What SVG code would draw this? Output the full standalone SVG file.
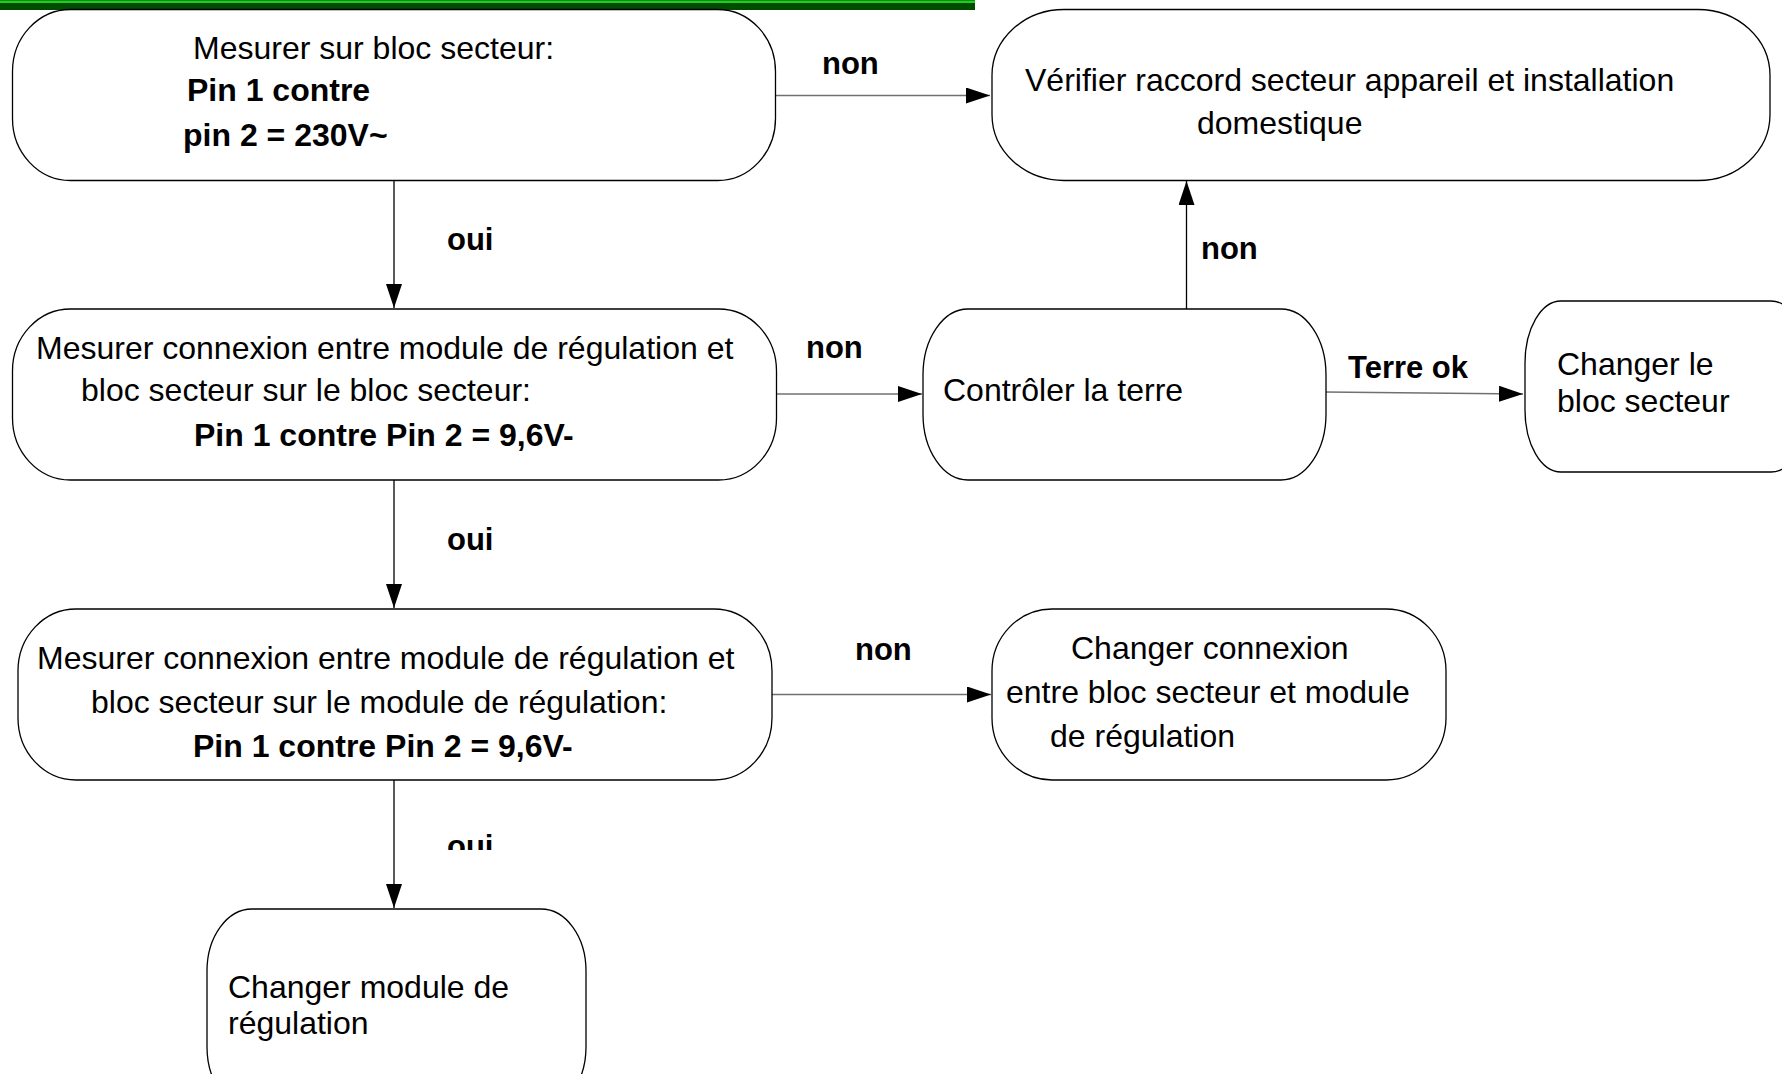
<svg xmlns="http://www.w3.org/2000/svg" width="1782" height="1074" viewBox="0 0 1782 1074">
<style>
.node{fill:#ffffff;stroke:#000000;stroke-width:1.3}
.t{font-family:"Liberation Sans",Arial,sans-serif;font-size:32px;fill:#000}
.b{font-family:"Liberation Sans",Arial,sans-serif;font-size:32px;font-weight:bold;fill:#000}
.lbl{font-family:"Liberation Sans",Arial,sans-serif;font-size:31px;font-weight:bold;fill:#000}
.v{stroke:#000;stroke-width:1.3;fill:none}
.h{stroke:#707070;stroke-width:1.6;fill:none}
</style>
<defs>
<marker id="ah" markerUnits="userSpaceOnUse" markerWidth="24" markerHeight="16" refX="24" refY="8" orient="auto">
<path d="M0,0 L24,8 L0,16 z" fill="#000"/>
</marker>
<clipPath id="clipOui"><rect x="0" y="0" width="1782" height="850"/></clipPath>
</defs>
<rect width="1782" height="1074" fill="#ffffff"/>
<g id="topbar">
<rect x="0" y="0" width="975" height="10" fill="#004d00"/>
<rect x="0" y="0.5" width="975" height="2.5" fill="#22cc22"/>
</g>
<g id="connectors">
<line class="h" x1="766" y1="95.5" x2="990" y2="95.5" marker-end="url(#ah)"/>
<line class="v" x1="394" y1="180" x2="394" y2="308" marker-end="url(#ah)"/>
<line class="h" x1="776" y1="394" x2="922" y2="394" marker-end="url(#ah)"/>
<line class="v" x1="1186.5" y1="309" x2="1186.5" y2="181" marker-end="url(#ah)"/>
<line class="h" x1="1325" y1="392" x2="1523" y2="394" marker-end="url(#ah)"/>
<line class="v" x1="394" y1="480" x2="394" y2="608" marker-end="url(#ah)"/>
<line class="h" x1="772" y1="694.5" x2="991" y2="694.5" marker-end="url(#ah)"/>
<line class="v" x1="394" y1="780" x2="394" y2="908" marker-end="url(#ah)"/>
<text class="lbl" x="822" y="74">non</text>
<text class="lbl" x="447" y="250">oui</text>
<text class="lbl" x="806" y="358">non</text>
<text class="lbl" x="1201" y="259">non</text>
<text class="lbl" x="1348" y="378">Terre ok</text>
<text class="lbl" x="447" y="550">oui</text>
<text class="lbl" x="855" y="660">non</text>
<text class="lbl" x="447" y="857" clip-path="url(#clipOui)">oui</text>
</g>
<g id="n1">
<rect class="node" x="12.5" y="9.5" width="763" height="171" rx="58" ry="62"/>
<text class="t" x="193" y="59">Mesurer sur bloc secteur:</text>
<text class="b" x="187" y="101">Pin 1 contre</text>
<text class="b" x="183" y="146">pin 2 = 230V~</text>
</g>
<g id="n2">
<rect class="node" x="992" y="9.5" width="778" height="171" rx="72" ry="66"/>
<text class="t" x="1025" y="91">Vérifier raccord secteur appareil et installation</text>
<text class="t" x="1197" y="134">domestique</text>
</g>
<g id="n3">
<rect class="node" x="12.5" y="309" width="764" height="171" rx="58" ry="62"/>
<text class="t" x="36" y="359">Mesurer connexion entre module de régulation et</text>
<text class="t" x="81" y="401">bloc secteur sur le bloc secteur:</text>
<text class="b" x="194" y="446">Pin 1 contre Pin 2 = 9,6V-</text>
</g>
<g id="n4">
<rect class="node" x="923" y="309" width="403" height="171" rx="45" ry="66"/>
<text class="t" x="943" y="401">Contrôler la terre</text>
</g>
<g id="n5">
<rect class="node" x="1525" y="301" width="282" height="171" rx="36" ry="62"/>
<text class="t" x="1557" y="375">Changer le</text>
<text class="t" x="1557" y="412">bloc secteur</text>
</g>
<g id="n6">
<rect class="node" x="18" y="609" width="754" height="171" rx="58" ry="62"/>
<text class="t" x="37" y="669">Mesurer connexion entre module de régulation et</text>
<text class="t" x="91" y="713">bloc secteur sur le module de régulation:</text>
<text class="b" x="193" y="757">Pin 1 contre Pin 2 = 9,6V-</text>
</g>
<g id="n7">
<rect class="node" x="992" y="609" width="454" height="171" rx="60" ry="62"/>
<text class="t" x="1071" y="659">Changer connexion</text>
<text class="t" x="1006" y="703">entre bloc secteur et module</text>
<text class="t" x="1050" y="747">de régulation</text>
</g>
<g id="n8">
<rect class="node" x="207" y="909" width="379" height="200" rx="45" ry="62"/>
<text class="t" x="228" y="998">Changer module de</text>
<text class="t" x="228" y="1034">régulation</text>
</g>
</svg>
